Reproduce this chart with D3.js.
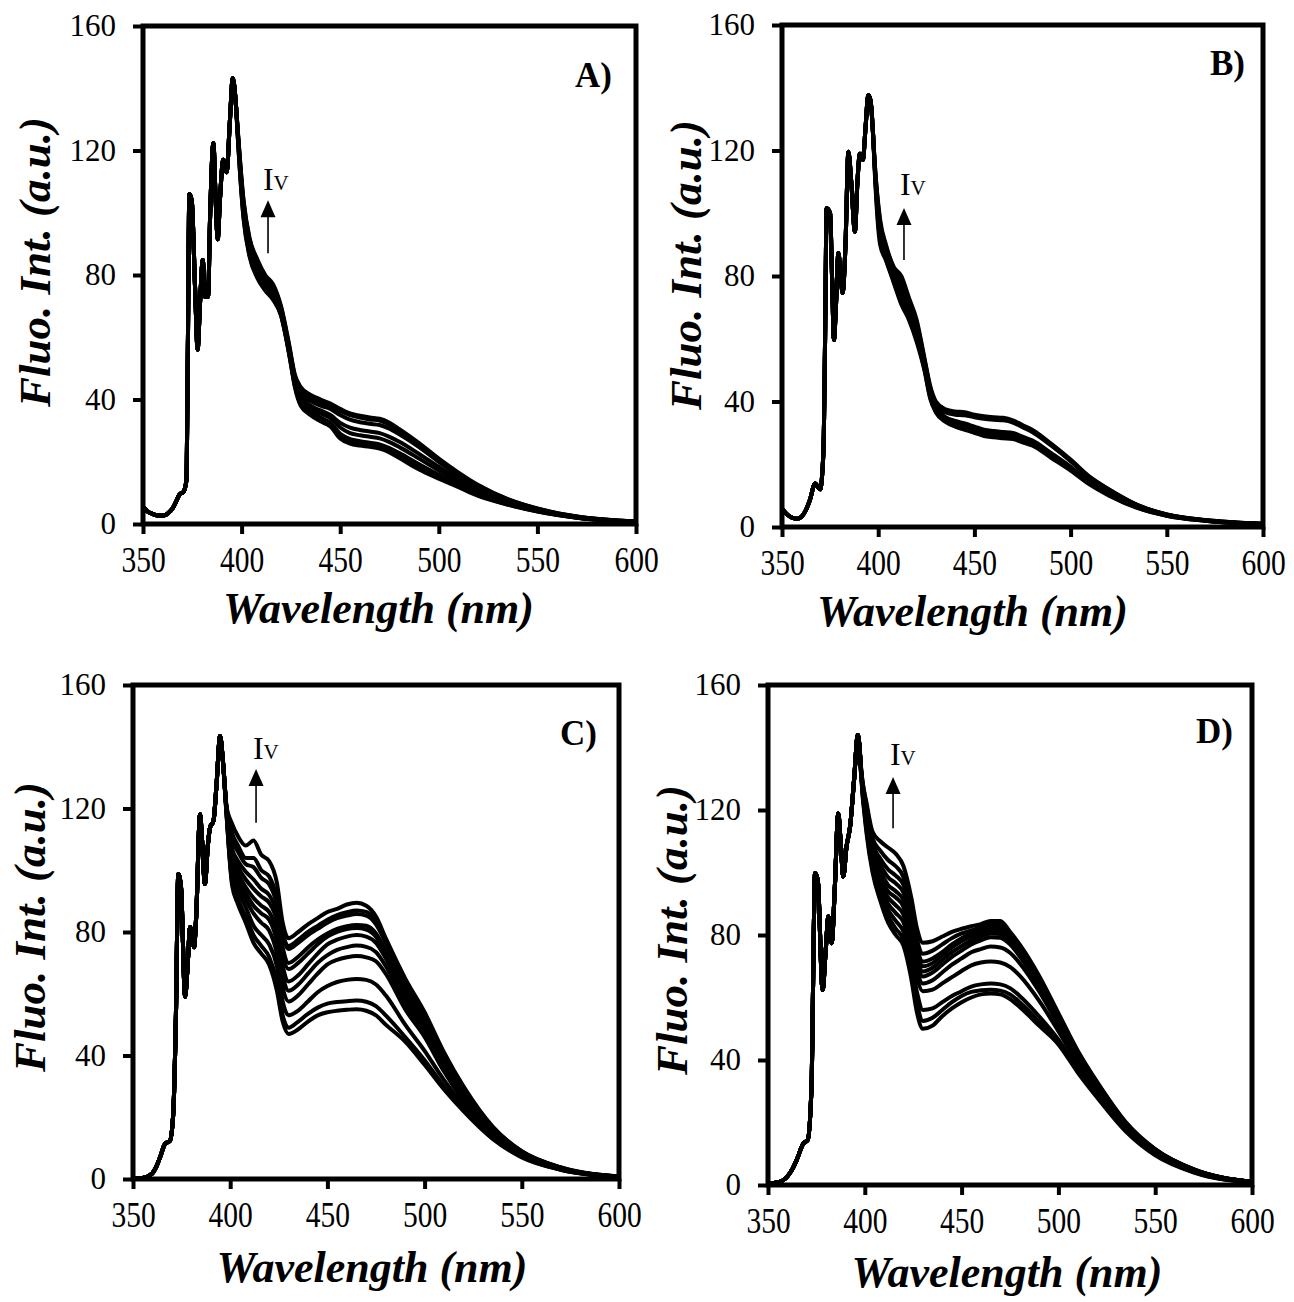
<!DOCTYPE html>
<html>
<head>
<meta charset="utf-8">
<script src="https://cdn.jsdelivr.net/npm/d3@7"></script>
<style>
  body { margin: 0; background: #fff; }
  svg text { font-family: "Liberation Serif", "Times New Roman", Times, serif; }
</style>
</head>
<body>
<svg id="fig" width="1294" height="1302"></svg>
<script>
// ---- data ----
const xTicks = [350, 400, 450, 500, 550, 600];
const yTicks = [0, 40, 80, 120, 160];

// wavelengths where the spectra separate (shared by all panels)
const tailWl = [398, 401, 404, 408, 412, 416, 420, 424, 427, 430, 435, 440, 445, 450, 455, 460, 465, 470, 475, 480, 490, 500, 510, 520, 535, 550, 570, 600];

// panel A
const headWlA = [350, 352, 355, 358, 361, 363, 365, 367, 368.5, 370.5, 372, 372.8, 373.5, 374.7, 376.4, 377.7, 378.9, 380.3, 381.5, 383, 384, 385.7, 386.8, 387.9, 389, 390.7, 392.4, 394.1, 395.5, 397.2];
const headA = [5.6, 4.2, 3.2, 2.7, 2.8, 3.6, 5.0, 7.5, 9.5, 10.3, 14, 60, 106, 104, 76, 56, 70.8, 84.8, 73, 73, 98, 122.3, 105, 91.5, 104, 117, 113, 129.8, 143.2, 134];
const tailsA = [
  [127, 104, 92, 85, 80, 77, 70, 58, 48, 44, 41.5, 40, 38.7, 37, 35.5, 34.8, 34.2, 33.8, 32.5, 30.5, 26, 21, 16.5, 12.5, 8, 5, 2.4, 0.8],
  [127, 103.5, 91.5, 84.5, 79.5, 76.5, 69.5, 57.5, 47.5, 43, 40.5, 39, 38, 36.3, 35, 34.2, 33.6, 33.2, 31.9, 30, 25.6, 20.7, 16.2, 12.3, 7.9, 4.9, 2.4, 0.8],
  [126.5, 102.5, 90.5, 83.5, 78.5, 75.5, 69, 57, 47, 42, 39.5, 38, 37, 35, 33.5, 32.7, 32.2, 31.8, 30.6, 28.8, 24.7, 20, 15.7, 12, 7.7, 4.8, 2.3, 0.8],
  [126.5, 101.5, 89.5, 82.5, 77.5, 74.5, 68.5, 56.5, 46, 41, 38, 36.5, 35, 32.5, 31, 30.2, 29.7, 29.2, 28, 26.4, 22.5, 18.4, 14.5, 11.1, 7.2, 4.6, 2.2, 0.7],
  [126, 100.5, 88.5, 81.5, 77, 74, 68, 56, 45.5, 40, 37, 35.5, 34, 31, 29.2, 28.5, 28, 27.5, 26.3, 24.7, 21, 17.2, 13.7, 10.5, 6.9, 4.4, 2.1, 0.7],
  [125.5, 99.5, 87.5, 80.5, 76, 73, 67.5, 55.5, 45, 39, 36, 34.2, 32.5, 29, 27.3, 26.6, 26.1, 25.6, 24.4, 22.8, 19.2, 15.8, 12.7, 9.7, 6.5, 4.2, 2.1, 0.7],
  [125, 98.5, 86.5, 79.5, 75.5, 72.5, 67, 55, 44.5, 38.5, 35.5, 33.6, 32, 28.2, 26.5, 25.9, 25.4, 24.9, 23.7, 22, 18.4, 15.2, 12.2, 9.3, 6.3, 4.1, 2, 0.6],
  [125, 98, 86, 79, 75, 72, 67, 55, 44, 38, 35, 33, 31.3, 27.5, 25.8, 25.2, 24.8, 24.2, 23, 21.2, 17.5, 14.6, 11.8, 9, 6.2, 4, 2, 0.6]
];

// panel B
const headWlB = [350, 353, 355.9, 358, 360.2, 362.5, 364.5, 367.2, 369.8, 371.5, 372.4, 373.2, 375, 376, 377, 378, 379.3, 380.5, 381.5, 383, 384.5, 386, 387.9, 389.2, 390.5, 392, 393.5, 394.8, 396, 397.4];
const headB = [5.8, 3.8, 2.8, 2.6, 3.3, 5.5, 8.6, 13.9, 12, 23.5, 60, 101.6, 100, 80, 59.6, 70, 87.3, 80, 74.6, 90, 119.6, 110, 94.1, 110, 119, 117, 128, 137.7, 136, 124.4];
const tailsB = [
  [118, 98, 90, 83, 80, 73, 66, 54, 45, 40, 37.5, 36.8, 36.6, 35.8, 35.3, 35, 34.8, 34, 32.5, 31, 26.5, 21.5, 16, 12, 7, 4, 2.2, 1],
  [118, 97, 89.5, 82.5, 79, 72, 65, 53.5, 44.5, 39.5, 37, 36.4, 36.2, 35.4, 35, 34.7, 34.4, 33.7, 32.2, 30.7, 26.2, 21.2, 15.8, 11.9, 6.9, 4, 2.2, 1],
  [117.5, 96, 89, 82, 77.5, 71, 64, 53, 44, 39, 36.5, 35.8, 35.6, 35, 34.5, 34.2, 34, 33.3, 31.8, 30.3, 25.9, 21, 15.6, 11.7, 6.8, 3.9, 2.1, 1],
  [117, 94, 87.5, 80.5, 75, 69, 62, 52, 43, 38, 35, 33.8, 33, 32, 31, 30.6, 30.3, 30, 28.8, 27.6, 23.5, 19.2, 14.4, 10.7, 6.4, 3.8, 2.1, 0.9],
  [117, 93, 86.5, 79.5, 73.5, 68, 61, 51.5, 42.5, 37.5, 34.5, 33.2, 32.3, 31.3, 30.3, 29.9, 29.6, 29.3, 28.2, 27, 23, 18.8, 14.1, 10.5, 6.3, 3.7, 2, 0.9],
  [116.5, 91.5, 85.5, 78.5, 72, 67, 60, 50.5, 41.5, 37, 34, 32.5, 31.6, 30.6, 29.6, 29.2, 28.9, 28.6, 27.6, 26.5, 22.5, 18.4, 13.8, 10.2, 6.1, 3.6, 2, 0.9],
  [116, 90, 85, 78, 71, 66, 59, 50, 41, 36.5, 33.5, 32, 31, 30, 29, 28.6, 28.3, 28, 27, 26, 22, 18, 13.5, 10, 6, 3.6, 2, 0.9]
];

// panel C
const headWlC = [350, 355, 359.6, 362, 363.9, 366.5, 369, 370.7, 372.1, 373.3, 374.7, 376.8, 378, 379.4, 381.4, 382.5, 384.5, 385.5, 387, 388.5, 389.6, 391.4, 393, 394.8, 396.3];
const headC = [0, 0.3, 1.6, 4, 7, 11.4, 12.4, 21.2, 53.6, 98.8, 94.5, 59, 68, 81.6, 75.1, 85, 118.2, 110, 95.6, 108, 113.8, 116, 128, 143.5, 135];
const tailsC = [
  [121, 115, 111, 108, 109.6, 105, 103, 96, 83, 78, 80, 82.5, 84.5, 86.5, 87.5, 88.9, 89.5, 88.5, 85, 78, 65, 54, 41, 30, 17, 9, 3.8, 0.8],
  [121, 112, 108, 104, 104, 100, 98, 91, 80, 75.5, 77.5, 80, 82, 84, 85.5, 86.4, 87, 86.5, 83.5, 77, 64, 53, 40.5, 29.5, 16.8, 8.9, 3.7, 0.8],
  [121, 110, 106, 102, 101, 97.5, 95.5, 89, 79, 74.5, 76.5, 79, 81, 83, 84.5, 85.3, 85.8, 85.3, 82.5, 76.5, 63.5, 52.5, 40, 29.2, 16.6, 8.8, 3.7, 0.8],
  [121, 107, 103, 99.5, 97, 94, 92, 86, 75, 70, 72, 75, 77.5, 79.5, 81, 81.9, 82.3, 82, 79.5, 74, 61.5, 51, 39, 28.5, 16.2, 8.6, 3.6, 0.7],
  [120.5, 105, 101, 97, 94, 91.5, 89.5, 83.5, 72.5, 68, 70, 73, 76, 78.5, 80, 81, 81.3, 80.8, 78.5, 73, 60.5, 50, 38, 27.8, 15.8, 8.4, 3.5, 0.7],
  [120.5, 103, 99, 94.5, 91, 88.5, 86.5, 80, 69, 64, 66, 69.5, 73, 76, 77.5, 78.5, 79, 78.5, 76.5, 71.5, 59, 49, 37, 27, 15.3, 8.2, 3.4, 0.7],
  [120, 101, 97, 92.5, 88.5, 86, 84, 77, 66, 61, 63, 66.5, 70, 72.5, 74.2, 75.1, 75.6, 75.2, 73.5, 69, 57, 47.5, 36, 26.2, 14.8, 8, 3.3, 0.7],
  [120, 99, 95, 90.5, 86, 83, 80.5, 73, 62, 57.5, 59.5, 63, 66.5, 69.5, 71, 71.8, 72.2, 71.8, 70.5, 66.5, 55, 46, 34.8, 25.3, 14.4, 7.8, 3.2, 0.7],
  [119.5, 97, 93, 88, 82, 79, 76, 69, 57.5, 53, 54.5, 57.5, 60.5, 62.5, 63.8, 64.5, 64.8, 64.5, 63, 59.5, 50, 41.5, 32, 23.8, 13.8, 7.5, 3.1, 0.6],
  [119, 96, 90.5, 85, 79, 75.5, 72, 64, 53, 49, 51, 53.5, 55.5, 56.8, 57.3, 57.6, 57.8, 57.4, 56, 53, 46, 38.5, 30, 22.8, 13.3, 7.2, 3, 0.6],
  [119, 95, 89, 83, 76.5, 73, 69.5, 61, 51, 47, 48.5, 51, 53, 54, 54.5, 54.8, 55, 54.5, 53, 50, 44.5, 37, 29, 22, 13, 7, 3, 0.6]
];

// panel D
const headWlD = [350, 355, 360, 362.5, 364.8, 368.3, 370.5, 372.6, 373.5, 374.3, 375.7, 378.2, 379.8, 381.2, 382.9, 384.5, 386.3, 387.5, 388.9, 390.5, 392.4, 394.5, 396.4, 397.3];
const headD = [0.5, 0.8, 2.7, 5, 8, 13.3, 14.4, 33.6, 75, 99.8, 97.6, 62.4, 75, 85.9, 77.4, 95, 118.9, 110, 98.7, 108, 114.7, 130, 144, 140];
const tailsD = [
  [134, 122, 113, 110, 108, 106, 102, 92, 82, 77.5, 78, 79.5, 81, 82, 82.8, 83.5, 84.5, 84.5, 81, 77, 67, 55, 43, 33, 20, 11.5, 5, 1],
  [134, 121, 111, 107, 104, 102, 98.5, 88.5, 78.5, 74, 75, 77, 79, 80.5, 81.5, 82.5, 83.5, 83.3, 80.2, 76.2, 66.2, 54.5, 42.6, 32.7, 19.8, 11.4, 5, 1],
  [133.5, 120, 109.5, 104.5, 101, 99, 96, 86, 76, 71.5, 72.5, 74.5, 77, 79, 80.5, 81.5, 82.5, 82.3, 79.5, 75.5, 65.5, 54, 42.2, 32.4, 19.6, 11.3, 4.9, 1],
  [133.5, 119, 108, 102.5, 98.5, 96.5, 93.5, 84, 74.5, 70, 71, 73.5, 76, 78, 79.5, 80.5, 81.5, 81.3, 78.8, 74.8, 65, 53.5, 41.8, 32.1, 19.4, 11.2, 4.9, 1],
  [133, 118, 106.5, 100.5, 96, 94, 91, 82, 72.5, 68.3, 69.5, 72, 74.5, 76.5, 78.2, 79.5, 80.5, 80.3, 78, 74, 64.3, 53, 41.4, 31.8, 19.2, 11.1, 4.8, 1],
  [133, 117, 105, 98.5, 94, 92, 89, 80, 71, 66.7, 68, 70.5, 73, 75, 77, 78.3, 79.3, 79.1, 77, 73.2, 63.7, 52.4, 41, 31.5, 19, 11, 4.8, 1],
  [133, 116, 104, 96.5, 92, 89.5, 86.5, 77.5, 68.5, 64.5, 65.5, 68, 70.5, 72.5, 74.5, 75.5, 76.3, 76, 74.3, 71, 62, 51.2, 40.2, 30.9, 18.6, 10.8, 4.7, 1],
  [132.5, 115, 103, 95, 90, 87, 84, 75, 66, 62, 62.5, 64.5, 66.5, 68.5, 70.3, 71.2, 71.5, 71.2, 69.8, 67, 59, 49.2, 38.8, 30, 18.2, 10.5, 4.5, 0.9],
  [132.5, 114, 102, 93.5, 88, 84.5, 81, 71.5, 61.5, 56, 56.5, 58.5, 60.5, 62, 63.5, 64.2, 64.5, 64.2, 63, 60.5, 54, 46.5, 37, 29, 17.6, 10, 4.2, 0.9],
  [132, 113, 101, 92, 86, 82, 78.5, 68.5, 58, 52.5, 53.5, 56, 58.5, 60.5, 61.8, 62.3, 62.5, 62.2, 61, 58.5, 52.3, 45.7, 36.5, 28.5, 17.3, 9.8, 4.1, 0.8],
  [132, 112, 100, 91, 84, 80, 76.5, 66, 55, 50, 51, 54, 56.5, 58.5, 60, 61, 61.3, 61, 59.5, 57, 51, 45, 36, 28, 17, 9.5, 4, 0.8]
];

// ---- layout of the four panels ----
const panels = [
  { label: "A)", box: { l: 143, r: 636, t: 26, b: 524 }, headWl: headWlA, head: headA, tails: tailsA,
    iv: [410.8, 107.3], arrow: [413.4, 104, 87], labelOff: [24, 61], yTitle: [93, -13], xTitle: [-11, 99] },
  { label: "B)", box: { l: 782, r: 1263, t: 25, b: 527 }, headWl: headWlB, head: headB, tails: tailsB,
    iv: [411.3, 105.8], arrow: [413.4, 101.7, 85.1], labelOff: [18, 50], yTitle: [81, -11], xTitle: [-50, 99] },
  { label: "C)", box: { l: 133, r: 619, t: 685, b: 1179 }, headWl: headWlC, head: headC, tails: tailsC,
    iv: [411.7, 136], arrow: [413.3, 132.8, 115.4], labelOff: [22, 60], yTitle: [88, -5], xTitle: [-4, 103] },
  { label: "D)", box: { l: 768, r: 1252, t: 685, b: 1185 }, headWl: headWlD, head: headD, tails: tailsD,
    iv: [413, 134.4], arrow: [414.6, 130.6, 114.2], labelOff: [19, 58], yTitle: [81, -5], xTitle: [-3, 102] }
];

const svg = d3.select("#fig");

panels.forEach(function(p) {
  const x = d3.scaleLinear().domain([350, 600]).range([p.box.l, p.box.r]);
  const y = d3.scaleLinear().domain([0, 160]).range([p.box.b, p.box.t]);
  const g = svg.append("g");

  const line = d3.line()
    .x(d => x(d[0]))
    .y(d => y(d[1]))
    .curve(d3.curveMonotoneX);

  // spectra
  p.tails.forEach(function(tail) {
    const pts = p.headWl.map((w, i) => [w, p.head[i]])
      .concat(tailWl.map((w, i) => [w, tail[i]]));
    g.append("path")
      .datum(pts)
      .attr("d", line)
      .attr("fill", "none")
      .attr("stroke", "#000")
      .attr("stroke-width", 4)
      .attr("stroke-linejoin", "round");
  });

  // x axis
  const gx = g.append("g")
    .attr("transform", "translate(0," + p.box.b + ")")
    .call(d3.axisBottom(x).tickValues(xTicks).tickSize(10).tickPadding(12));
  gx.select(".domain").remove();
  gx.selectAll(".tick line").attr("stroke-width", 4);
  gx.attr("font-size", null).attr("font-family", null);
  gx.selectAll(".tick text")
    .attr("font-size", 36)
    .attr("fill", "#000")
    .attr("transform", "scale(0.82,1)");

  // y axis
  const gy = g.append("g")
    .attr("transform", "translate(" + p.box.l + ",0)")
    .call(d3.axisLeft(y).tickValues(yTicks).tickSize(10).tickPadding(17));
  gy.select(".domain").remove();
  gy.selectAll(".tick line").attr("stroke-width", 4);
  gy.attr("font-size", null).attr("font-family", null);
  gy.selectAll(".tick text")
    .attr("font-size", 31)
    .attr("fill", "#000");

  // frame
  g.append("rect")
    .attr("x", p.box.l)
    .attr("y", p.box.t)
    .attr("width", p.box.r - p.box.l)
    .attr("height", p.box.b - p.box.t)
    .attr("fill", "none")
    .attr("stroke", "#000")
    .attr("stroke-width", 5);

  // axis titles
  g.append("text")
    .attr("x", (p.box.l + p.box.r) / 2 + p.xTitle[0])
    .attr("y", p.box.b + p.xTitle[1])
    .attr("text-anchor", "middle")
    .attr("font-size", 44)
    .attr("font-weight", "bold")
    .attr("font-style", "italic")
    .text("Wavelength (nm)");

  const cy = (p.box.t + p.box.b) / 2 + p.yTitle[1];
  g.append("text")
    .attr("transform", "translate(" + (p.box.l - p.yTitle[0]) + "," + cy + ") rotate(-90)")
    .attr("text-anchor", "middle")
    .attr("font-size", 45)
    .attr("font-weight", "bold")
    .attr("font-style", "italic")
    .text("Fluo. Int. (a.u.)");

  // panel letter
  g.append("text")
    .attr("x", p.box.r - p.labelOff[0])
    .attr("y", p.box.t + p.labelOff[1])
    .attr("text-anchor", "end")
    .attr("font-size", 35)
    .attr("font-weight", "bold")
    .text(p.label);

  // Iv annotation with arrow
  const iv = g.append("text")
    .attr("x", x(p.iv[0]))
    .attr("y", y(p.iv[1]))
    .attr("font-size", 32)
    .text("I");
  iv.append("tspan").attr("font-size", 21).text("V");

  const ax = x(p.arrow[0]);
  const aTop = y(p.arrow[1]);
  const aBot = y(p.arrow[2]);
  g.append("line")
    .attr("x1", ax).attr("x2", ax)
    .attr("y1", aBot).attr("y2", aTop + 14)
    .attr("stroke", "#000")
    .attr("stroke-width", 1.6);
  g.append("path")
    .attr("d", "M" + ax + "," + aTop + "L" + (ax + 7.5) + "," + (aTop + 17) + "L" + (ax - 7.5) + "," + (aTop + 17) + "Z")
    .attr("fill", "#000");
});
</script>
</body>
</html>
